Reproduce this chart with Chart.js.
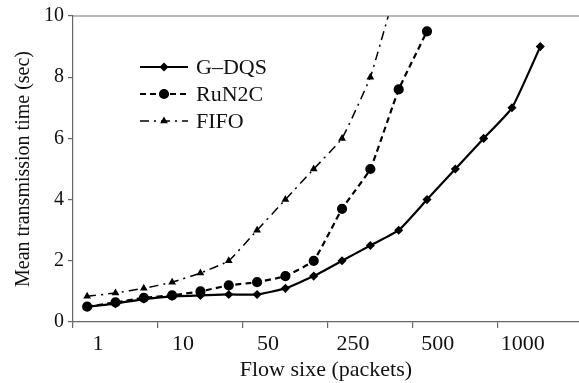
<!DOCTYPE html>
<html>
<head>
<meta charset="utf-8">
<script src="https://cdn.jsdelivr.net/npm/chart.js@4.4.1/dist/chart.umd.min.js"></script>
<style>
  html, body { margin: 0; padding: 0; background: #fff; overflow: hidden; }
  /* plot runs off the right edge in the original, so the canvas is a bit wider than the window */
  #wrap { width: 585px; height: 383px; position: relative; }
</style>
</head>
<body>
<div id="wrap"><canvas id="c"></canvas></div>
<script>
// flow size labels (one every 3 steps)
const flowLabels = ['1', '10', '50', '250', '500', '1000'];
const labelEvery = 3;

// mean transmission time (sec), one value per step
const gdqs  = [0.5, 0.6, 0.75, 0.84, 0.87, 0.9, 0.9, 1.1, 1.5, 2.0, 2.5, 3.0, 4.0, 5.0, 6.0, 7.0, 9.0];
const run2c = [0.5, 0.64, 0.79, 0.87, 1.0, 1.2, 1.3, 1.5, 2.0, 3.7, 5.0, 7.6, 9.5];
const fifo  = [0.84, 0.95, 1.1, 1.3, 1.6, 2.0, 3.0, 4.0, 5.0, 6.0, 8.0, 11.2];

const yTicks = [0, 2, 4, 6, 8, 10];

const serif = 'Liberation Serif, Times New Roman, serif';
const ink = '#111';

const toPts = arr => arr.map((v, i) => ({ x: i + 0.5, y: v }));

// legend drawn inside the plot, line sample + marker like the original
const legendInside = {
  id: 'legendInside',
  afterDatasetsDraw(chart) {
    const ctx = chart.ctx;
    const rows = [67, 94, 121];
    chart.data.datasets.forEach((ds, i) => {
      const y = rows[i];
      ctx.save();
      ctx.strokeStyle = ds.borderColor;
      ctx.lineWidth = ds.borderWidth;
      ctx.setLineDash(ds.borderDash || []);
      ctx.beginPath();
      ctx.moveTo(140, y);
      ctx.lineTo(188, y);
      ctx.stroke();
      ctx.setLineDash([]);
      Chart.helpers.drawPoint(ctx, {
        pointStyle: ds.pointStyle, radius: ds.pointRadius, borderWidth: 1
      }, 164, y);
      ctx.fillStyle = ds.pointBackgroundColor;
      ctx.fill();
      ctx.fillStyle = ink;
      ctx.font = '22px ' + serif;
      ctx.textBaseline = 'middle';
      ctx.fillText(ds.label, 196, y + 1);
      ctx.restore();
    });
  }
};

const topBorder = {
  id: 'topBorder',
  afterDraw(chart) {
    const a = chart.chartArea, ctx = chart.ctx;
    ctx.save();
    ctx.strokeStyle = '#777';
    ctx.lineWidth = 1.2;
    ctx.beginPath();
    ctx.moveTo(a.left, a.top);
    ctx.lineTo(chart.width, a.top);
    ctx.stroke();
    ctx.restore();
  }
};

new Chart(document.getElementById('c'), {
  type: 'line',
  data: {
    datasets: [
      {
        label: 'G\u2013DQS',
        data: toPts(gdqs),
        borderColor: '#000',
        borderWidth: 2.2,
        pointStyle: 'rectRot',
        pointRadius: 3,
        pointBackgroundColor: '#000',
        pointBorderColor: '#000',
        tension: 0.15
      },
      {
        label: 'RuN2C',
        data: toPts(run2c),
        borderColor: '#000',
        borderWidth: 2.2,
        borderDash: [6, 4],
        pointStyle: 'circle',
        pointRadius: 4,
        pointBackgroundColor: '#000',
        pointBorderColor: '#000',
        tension: 0.1
      },
      {
        label: 'FIFO',
        data: toPts(fifo),
        borderColor: '#000',
        borderWidth: 1.5,
        borderDash: [9, 5, 2, 5],
        pointStyle: 'triangle',
        pointRadius: 3,
        pointBackgroundColor: '#000',
        pointBorderColor: '#000',
        tension: 0.1
      }
    ]
  },
  plugins: [legendInside, topBorder],
  options: {
    responsive: true,
    maintainAspectRatio: false,
    animation: false,
    layout: { padding: { top: 14, right: 0, left: 0, bottom: 0 } },
    plugins: { legend: { display: false }, tooltip: { enabled: false } },
    scales: {
      x: {
        type: 'linear',
        min: 0,
        max: 17.86,
        afterBuildTicks: axis => {
          axis.ticks = flowLabels.map((_, i) => ({ value: i * labelEvery }));
        },
        afterFit: s => { s.height = 61; },
        ticks: {
          labelOffset: 25,
          padding: 3,
          maxRotation: 0,
          autoSkip: false,
          color: ink,
          font: { family: serif, size: 22 },
          callback: (v, i) => flowLabels[i]
        },
        grid: { display: true, drawOnChartArea: false, tickLength: 6, color: '#666', lineWidth: 1.2 },
        border: { color: '#666', width: 1.2 },
        title: {
          display: true,
          text: 'Flow sixe (packets)',
          color: ink,
          font: { family: serif, size: 22 },
          padding: { top: 0, bottom: 0 }
        }
      },
      y: {
        min: 0,
        max: 10,
        afterBuildTicks: axis => { axis.ticks = yTicks.map(v => ({ value: v })); },
        afterFit: s => { s.width = 73; },
        ticks: {
          padding: 4,
          color: ink,
          font: { family: serif, size: 20 }
        },
        grid: { display: true, drawOnChartArea: false, tickLength: 5, color: '#666', lineWidth: 1.2 },
        border: { color: '#666', width: 1.2 },
        title: {
          display: true,
          text: 'Mean transmission time (sec)',
          color: ink,
          font: { family: serif, size: 20 },
          padding: { top: 12, bottom: 0 }
        }
      }
    }
  }
});
</script>
</body>
</html>
